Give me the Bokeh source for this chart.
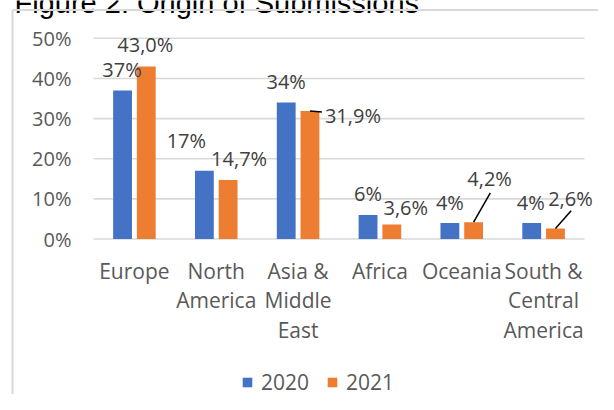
from bokeh.plotting import figure
from bokeh.models import (ColumnDataSource, LabelSet, Range1d, NumeralTickFormatter,
                          FixedTicker, Legend, LegendItem)
from bokeh.core.properties import value
from bokeh.transform import dodge
from bokeh.embed import file_html
from bokeh.resources import INLINE

# ---------------- data ----------------
title = "Figure 2: Origin of Submissions"
categories = ["Europe", "North America", "Asia & Middle East", "Africa",
              "Oceania", "South & Central America"]
category_lines = [["Europe"], ["North", "America"], ["Asia &", "Middle", "East"],
                  ["Africa"], ["Oceania"], ["South &", "Central", "America"]]
series_names = ["2020", "2021"]
values_2020 = [0.37, 0.17, 0.34, 0.06, 0.04, 0.04]
values_2021 = [0.430, 0.147, 0.319, 0.036, 0.042, 0.026]
y_ticks = [0.0, 0.1, 0.2, 0.3, 0.4, 0.5]

# ---------------- layout / style (pixels on the canvas) ----------------
W, H = 598, 394
PLOT_L, PLOT_R = 93, 584        # where the category band starts / ends
PLOT_T, PLOT_B = 37.8, 238.5    # y of the top tick and of zero
n = len(categories)
px_x = (PLOT_R - PLOT_L) / n
px_y = (PLOT_B - PLOT_T) / (y_ticks[-1] - y_ticks[0])
x0d, x1d = -0.5 - PLOT_L / px_x, n - 0.5 + (W - PLOT_R) / px_x
y1d, y0d = y_ticks[-1] + PLOT_T / px_y, y_ticks[0] - (H - PLOT_B) / px_y

BLUE = "#4472C4"
ORANGE = "#ED7D31"
AXIS_TEXT = "#595959"
LABEL_TEXT = "#404040"
GRID = "#D9D9D9"
FONT = "Open Sans"
FS = "20px"
FS_CAT = "21px"
BAR_W = 0.23
DODGE = 0.145

# data label offsets in px (from bar top centre to label baseline centre, up = +)
off2020_x = [-0.5, -18, 0, 0, 0, -1]
off2020_y = [13.7, 23, 13.6, 14, 13, 13]
off2021_x = [-1, 11, 43, 14, 16, 15]
off2021_y = [14, 14, -12, 9.5, 36, 22.5]
# leader lines for some 2021 labels (category index, end offset px)
leader_idx = [2, 4, 5]
leader_dx = [12, 16.7, 15.7]
leader_dy = [-1, 29.3, 17.8]
line_offsets = [39.5, 69, 98.5]

idx = list(range(n))
fmt2020 = [f"{v * 100:.0f}%" for v in values_2020]
fmt2021 = [f"{v * 100:.1f}%".replace(".", ",") for v in values_2021]

src = ColumnDataSource(dict(
    x=idx, v2020=values_2020, v2021=values_2021,
    t2020=fmt2020, t2021=fmt2021,
    ox20=off2020_x, oy20=off2020_y, ox21=off2021_x, oy21=off2021_y,
))

p = figure(width=W, height=H, output_backend="svg", toolbar_location=None,
           x_range=Range1d(x0d, x1d), y_range=Range1d(y0d, y1d),
           min_border=0)
p.outline_line_color = None
p.background_fill_color = "white"
p.border_fill_color = "white"

# title (only its lower edge is inside the picture, as in the original)
p.text(x=[x0d + 14 / px_x], y=[y1d - 2.5 / px_y], text=[title],
       text_font=value("Liberation Sans"), text_font_size="29px",
       text_color="#000000", text_baseline="alphabetic", text_align="left")

# chart-area border (left and top edges visible in the window)
bx = x0d + 12 / px_x
by = y1d - 9.5 / px_y
p.segment(x0=[bx, bx], y0=[by, by], x1=[bx, x1d], y1=[y0d, by],
          line_color=GRID, line_width=2)

p.xaxis.visible = False
p.xgrid.visible = False
p.ygrid.visible = False

# gridlines over the category band only
p.segment(x0=[-0.5] * len(y_ticks), y0=y_ticks, x1=[n - 0.5] * len(y_ticks),
          y1=y_ticks, line_color=GRID, line_width=1.6)

ax = p.yaxis[0]
ax.fixed_location = -0.5
ax.ticker = FixedTicker(ticks=y_ticks)
ax.formatter = NumeralTickFormatter(format="0%")
ax.axis_line_color = None
ax.major_tick_line_color = None
ax.minor_tick_line_color = None
ax.major_tick_out = 0
ax.major_tick_in = 0
ax.major_label_standoff = 22
ax.major_label_text_font = FONT
ax.major_label_text_font_size = FS
ax.major_label_text_color = AXIS_TEXT

r1 = p.vbar(x=dodge("x", -DODGE), top="v2020", width=BAR_W, source=src,
            fill_color=BLUE, line_color=None)
r2 = p.vbar(x=dodge("x", DODGE), top="v2021", width=BAR_W, source=src,
            fill_color=ORANGE, line_color=None)

# leader lines
lx0 = [i + DODGE for i in leader_idx]
ly0 = [values_2021[i] for i in leader_idx]
lx1 = [x + dx / px_x for x, dx in zip(lx0, leader_dx)]
ly1 = [y + dy / px_y for y, dy in zip(ly0, leader_dy)]
p.segment(x0=lx0, y0=ly0, x1=lx1, y1=ly1, line_color="#000000", line_width=1.5)

# data labels
for col, tcol, ox, oy, d in [("v2020", "t2020", "ox20", "oy20", -DODGE),
                             ("v2021", "t2021", "ox21", "oy21", DODGE)]:
    p.add_layout(LabelSet(x=dodge("x", d), y=col, text=tcol, source=src,
                          x_offset=ox, y_offset=oy,
                          text_font=value(FONT), text_font_size=value(FS),
                          text_color=LABEL_TEXT,
                          text_align="center", text_baseline="alphabetic"))

# category labels (wrapped like the original)
for k, off in enumerate(line_offsets):
    xs = [i for i, lines in enumerate(category_lines) if len(lines) > k]
    ts = [category_lines[i][k] for i in xs]
    s = ColumnDataSource(dict(x=xs, y=[0.0] * len(xs), t=ts))
    p.add_layout(LabelSet(x="x", y="y", text="t", source=s, y_offset=-off,
                          text_font=value(FONT), text_font_size=value(FS_CAT),
                          text_color=AXIS_TEXT,
                          text_align="center", text_baseline="alphabetic"))

legend = Legend(items=[LegendItem(label=series_names[0], renderers=[r1]),
                       LegendItem(label=series_names[1], renderers=[r2])],
                orientation="horizontal", location=(241, -1.5),
                glyph_width=12, glyph_height=12, label_standoff=8, spacing=17,
                padding=0, margin=0, border_line_color=None,
                background_fill_alpha=0,
                label_text_font=FONT, label_text_font_size=FS_CAT,
                label_text_color=AXIS_TEXT)
p.add_layout(legend, "center")

open("out.html", "w").write(file_html(p, INLINE))
